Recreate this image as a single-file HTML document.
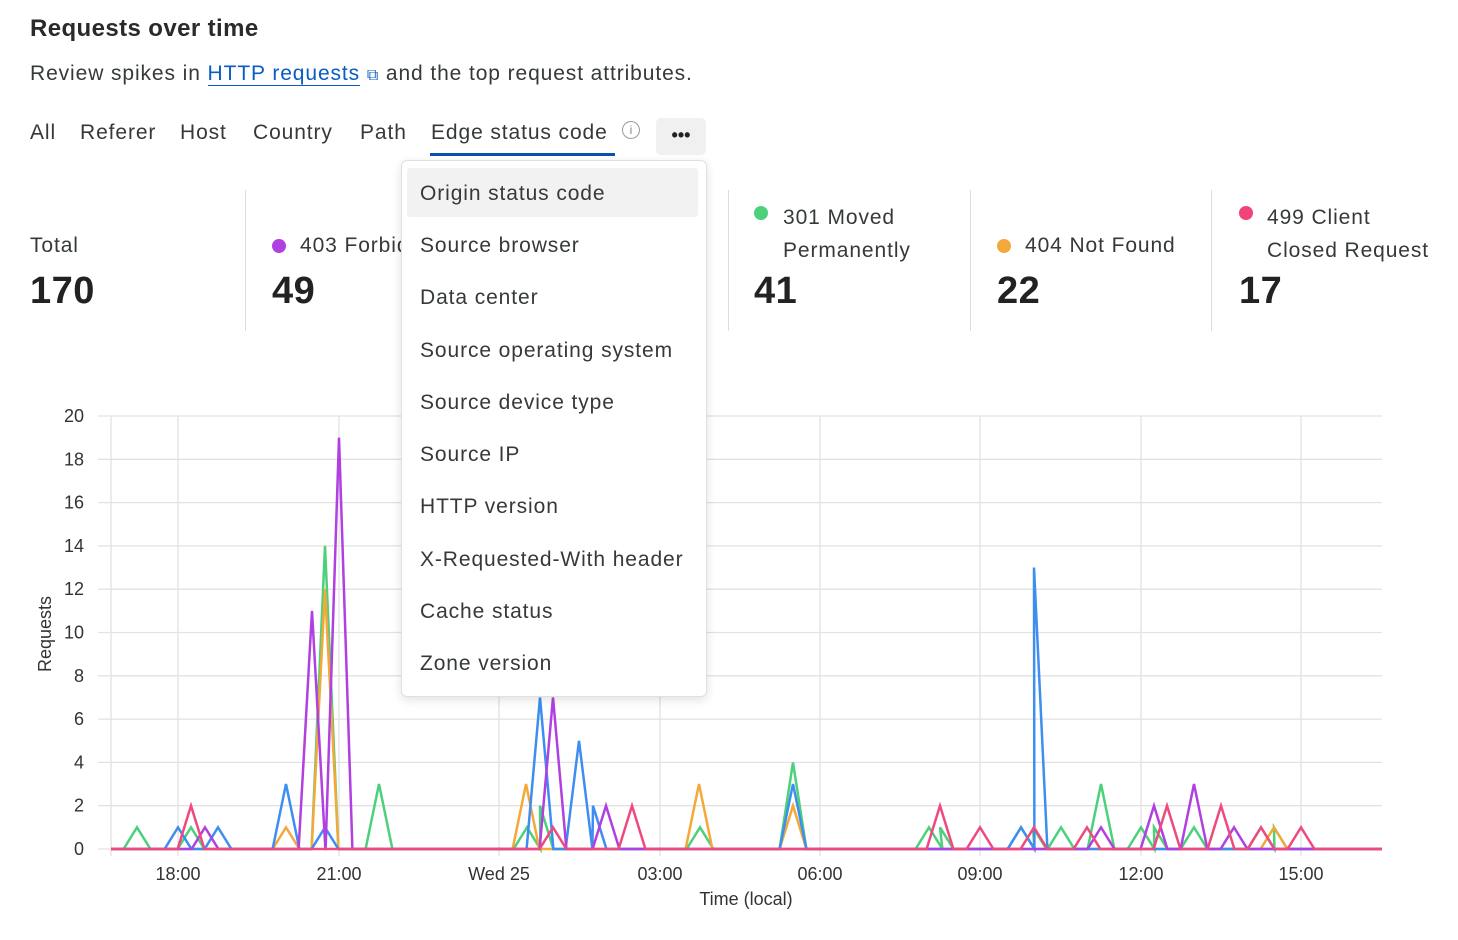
<!DOCTYPE html>
<html><head><meta charset="utf-8"><style>
body{margin:0;width:1458px;height:940px;background:#fff;font-family:"Liberation Sans",sans-serif;color:#36393a;position:relative;overflow:hidden}
.a{position:absolute;white-space:nowrap}
.tab{position:absolute;top:121px;font-size:21px;letter-spacing:0.9px;color:#36393a}
.lbl{font-size:21px;letter-spacing:0.9px;color:#36393a}
.num{font-size:38px;color:#222;font-weight:bold;letter-spacing:0.5px}
.dot{display:inline-block;width:14px;height:14px;border-radius:50%;position:absolute}
.vd{position:absolute;top:190px;height:141px;width:1px;background:#ddd}
.mi{position:absolute;left:420px;font-size:21px;letter-spacing:0.9px;color:#36393a}
</style></head><body>
<div class="a" style="left:30px;top:15px;font-size:24px;font-weight:bold;letter-spacing:0.4px;color:#2a2a2a">Requests over time</div>
<div class="a" style="left:30px;top:62px;font-size:21px;letter-spacing:0.9px">Review spikes in <span style="color:#0b5cc2;border-bottom:1px solid #0b5cc2">HTTP requests</span> <span style="color:#0b5cc2;font-size:16px">&#x29C9;</span> and the top request attributes.</div>
<div class="tab" style="left:30px">All</div>
<div class="tab" style="left:80px">Referer</div>
<div class="tab" style="left:180px">Host</div>
<div class="tab" style="left:253px">Country</div>
<div class="tab" style="left:360px">Path</div>
<div class="tab" style="left:431px">Edge status code</div>
<div class="a" style="left:622px;top:121px;width:16px;height:16px;border:1px solid #999;border-radius:50%;font-size:12px;color:#888;text-align:center;line-height:16px">i</div>
<div class="a" style="left:430px;top:153px;width:185px;height:3px;background:#0b4fb3"></div>
<div class="a" style="left:656px;top:118px;width:50px;height:37px;background:#f0f0f0;border-radius:5px;text-align:center;font-size:18px;font-weight:bold;line-height:34px;color:#222">•••</div>

<div class="vd" style="left:245px"></div><div class="vd" style="left:728px"></div><div class="vd" style="left:970px"></div><div class="vd" style="left:1211px"></div>
<div class="a lbl" style="left:30px;top:234px">Total</div>
<div class="a num" style="left:30px;top:270px">170</div>
<span class="dot" style="left:272px;top:239px;background:#b040e0"></span>
<div class="a lbl" style="left:300px;top:234px">403 Forbidden</div>
<div class="a num" style="left:272px;top:270px">49</div>
<span class="dot" style="left:754px;top:206px;background:#4cd07a"></span>
<div class="a lbl" style="left:783px;top:201px;line-height:33px">301 Moved<br>Permanently</div>
<div class="a num" style="left:754px;top:270px">41</div>
<span class="dot" style="left:997px;top:239px;background:#f5a83a"></span>
<div class="a lbl" style="left:1025px;top:234px">404 Not Found</div>
<div class="a num" style="left:997px;top:270px">22</div>
<span class="dot" style="left:1239px;top:206px;background:#f0447a"></span>
<div class="a lbl" style="left:1267px;top:201px;line-height:33px">499 Client<br>Closed Request</div>
<div class="a num" style="left:1239px;top:270px">17</div>

<svg class="a" style="left:0;top:0" width="1458" height="940" id="ch">
<g stroke="#e2e2e2" stroke-width="1.3" id="grid"></g>
<g font-family="Liberation Sans" font-size="18" fill="#333" id="lab"></g>
<text x="51" y="634" font-size="18" fill="#333" font-family="Liberation Sans" text-anchor="middle" transform="rotate(-90 51 634)">Requests</text>
<text x="746" y="905" font-size="18" fill="#333" font-family="Liberation Sans" text-anchor="middle">Time (local)</text>
<g fill="none" stroke-width="2.5" stroke-linejoin="miter" id="ser"></g>
</svg>

<div class="a" style="left:401px;top:160px;width:304px;height:535px;background:#fff;border:1px solid #e0e0e0;border-radius:6px;box-shadow:0 3px 10px rgba(0,0,0,.12)"></div>
<div class="a" style="left:407px;top:168px;width:291px;height:49px;background:#f2f2f2;border-radius:3px"></div>
<div class="mi" style="top:182px">Origin status code</div>
<div class="mi" style="top:234px">Source browser</div>
<div class="mi" style="top:286px">Data center</div>
<div class="mi" style="top:339px">Source operating system</div>
<div class="mi" style="top:391px">Source device type</div>
<div class="mi" style="top:443px">Source IP</div>
<div class="mi" style="top:495px">HTTP version</div>
<div class="mi" style="top:548px">X-Requested-With header</div>
<div class="mi" style="top:600px">Cache status</div>
<div class="mi" style="top:652px">Zone version</div>

<script>
var NS="http://www.w3.org/2000/svg";
function el(p,t,a,txt){var e=document.createElementNS(NS,t);for(var k in a)e.setAttribute(k,a[k]);if(txt)e.textContent=txt;p.appendChild(e);return e;}
var g=document.getElementById('grid'),lab=document.getElementById('lab'),ser=document.getElementById('ser');
var Y=function(v){return 849-v*21.65;};
for(var v=0;v<=20;v+=2){el(g,'line',{x1:98,x2:1382,y1:Y(v),y2:Y(v)});el(lab,'text',{x:84,y:Y(v)+6,'text-anchor':'end'},String(v));}
var xs=[178,339,499,660,820,980,1141,1301],xl=['18:00','21:00','Wed 25','03:00','06:00','09:00','12:00','15:00'];
el(g,'line',{x1:111,x2:111,y1:416,y2:856});
xs.forEach(function(x,i){el(g,'line',{x1:x,x2:x,y1:416,y2:856});el(lab,'text',{x:x,y:880,'text-anchor':'middle'},xl[i]);});
var S=[
['#4cd07a',[[137,1],[191,1],[325,14],[379,3],[527,1],[540,2],[700,1],[793,4],[929,1],[940,1],[1021,1],[1033,1],[1061,1],[1101,3],[1141,1],[1154,1],[1194,1],[1261,1],[1274,1]]],
['#f5a83a',[[286,1],[325,12],[526,3],[699,3],[793,2],[1274,1]]],
['#3d8ef0',[[178,1],[218,1],[286,3],[325,1],[540,7],[579,5],[593,2],[793,3],[1021,1],[1034,13]]],
['#b040e0',[[205,1],[312,11],[339,19],[553,7],[606,2],[1101,1],[1154,2],[1194,3],[1234,1]]],
['#ee4a80',[[191,2],[553,1],[632,2],[940,2],[980,1],[1034,1],[1087,1],[1167,2],[1221,2],[1261,1],[1301,1]]]
];
S.forEach(function(s){var pts=[[111,0]],last=111;
s[1].forEach(function(p){var x0=p[0]-13.4;if(x0>last)pts.push([x0,0]);pts.push(p);last=p[0];pts.push([p[0]+13.4,0]);last=p[0]+13.4;});
pts.push([1382,0]);
var d=pts.map(function(p,i){return (i?'L':'M')+p[0].toFixed(1)+' '+Y(p[1]).toFixed(1);}).join(' ');
el(ser,'path',{d:d,stroke:s[0]});});
</script>
</body></html>
